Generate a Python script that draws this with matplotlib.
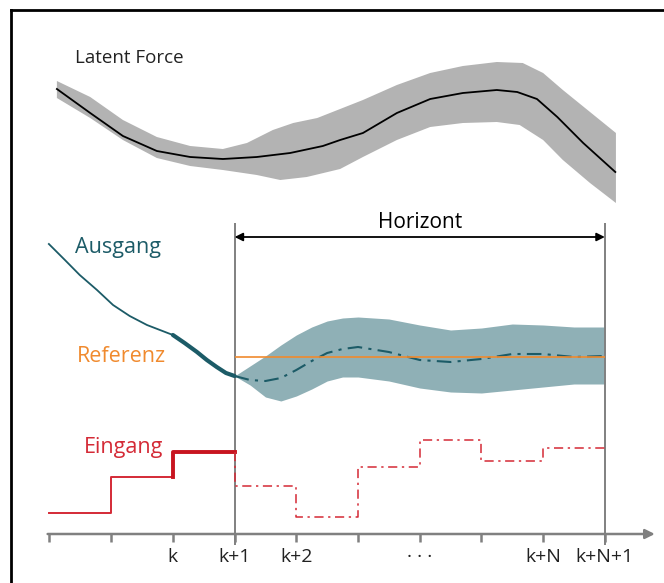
import matplotlib
matplotlib.use("Agg")
import matplotlib.pyplot as plt
from matplotlib.lines import Line2D
import numpy as np

plt.rcParams['font.family'] = ['Open Sans', 'DejaVu Sans']

# ----------------------------------------------------
# DATA (time in sample steps, values in arbitrary units)
# ----------------------------------------------------
# latent force mean
lf_t = [0.12, 0.66, 1.19, 1.74, 2.28, 2.81, 3.36, 3.90, 4.43, 4.71, 5.08, 5.63,
        6.17, 6.70, 7.25, 7.58, 7.90, 8.23, 8.65, 9.17]
lf_mean = [49.4, 47.0, 44.7, 43.2, 42.6, 42.4, 42.6, 43.0, 43.7, 44.3, 45.0, 47.0,
           48.4, 49.0, 49.3, 49.1, 48.4, 46.6, 44.0, 41.1]
# latent force confidence band
lf_up_t = [0.12, 0.66, 1.19, 1.74, 2.28, 2.81, 3.20, 3.62, 3.95, 4.34, 4.71, 5.08,
           5.63, 6.17, 6.70, 7.25, 7.67, 8.00, 8.32, 8.76, 9.18]
lf_upper = [50.2, 48.6, 46.3, 44.6, 43.7, 43.4, 44.0, 45.3, 46.0, 46.5, 47.4, 48.3,
            49.8, 51.0, 51.7, 52.1, 52.0, 51.0, 49.3, 47.1, 45.0]
lf_lo_t = [0.12, 0.66, 1.19, 1.74, 2.28, 2.81, 3.36, 3.74, 4.17, 4.71, 5.08, 5.63,
           6.17, 6.70, 7.25, 7.62, 8.00, 8.32, 8.76, 9.18]
lf_lower = [48.5, 46.5, 44.3, 42.5, 41.7, 41.3, 40.8, 40.3, 40.6, 41.4, 42.6, 44.3,
            45.6, 46.0, 46.1, 45.8, 44.3, 42.3, 40.0, 38.0]

# measured output (past)
out_t = [-0.01, 0.25, 0.49, 0.77, 1.03, 1.30, 1.58, 1.79, 2.0, 2.19, 2.39, 2.55,
         2.71, 2.86, 3.0]
out_y = [33.9, 32.3, 30.8, 29.3, 27.8, 26.7, 25.8, 25.3, 24.8, 24.0, 23.1, 22.3,
         21.6, 21.0, 20.7]

# predicted output (horizon)
pred_t = [3.0, 3.25, 3.5, 3.75, 4.0, 4.25, 4.5, 4.75, 5.0, 5.5, 6.0, 6.5, 7.0,
          7.5, 8.0, 8.5, 9.0]
pred_mean = [20.7, 20.3, 20.2, 20.5, 21.3, 22.2, 23.0, 23.4, 23.6, 23.1, 22.3,
             22.1, 22.4, 22.9, 22.9, 22.6, 22.7]
pred_upper = [20.7, 21.7, 22.7, 23.8, 24.8, 25.6, 26.2, 26.5, 26.6, 26.4, 25.8,
              25.3, 25.5, 25.9, 25.8, 25.6, 25.6]
pred_lower = [20.7, 19.8, 18.6, 18.2, 18.7, 19.4, 20.2, 20.6, 20.6, 20.2, 19.5,
              19.1, 19.0, 19.3, 19.6, 19.9, 19.9]

reference = 22.6

# input (past steps and planned steps)
u_past = [7.0, 10.6, 13.1]
u_future = [9.7, 6.6, 11.6, 14.3, 12.2, 13.5]

tick_labels = ["", "", "k", "k+1", "k+2", "", "\u00b7 \u00b7 \u00b7", "", "k+N", "k+N+1"]

# colours
c_band = "#b3b3b3"
c_teal = "#1c5b67"
c_teal_band = "#8fb0b6"
c_orange = "#f08a2e"
c_red = "#d42a36"
c_axis = "#808080"

# ----------------------------------------------------
# FIGURE
# ----------------------------------------------------
fig = plt.figure(figsize=(6.64, 5.83), dpi=100)
ax = fig.add_axes([0, 0, 1, 1])
ax.set_xlim(-0.802, 9.959)
ax.set_ylim(0, 58.3)
ax.axis("off")

# latent force
ax.fill(np.r_[lf_up_t, lf_lo_t[::-1]], np.r_[lf_upper, lf_lower[::-1]],
        color=c_band, lw=0)
ax.plot(lf_t, lf_mean, color="black", lw=1.3)
ax.text(0.42, 52.5, "Latent Force", fontsize=13.5, color="#222222",
        ha="left", va="center")

# horizon markers
k0 = 3
kN = len(tick_labels) - 1
ax.vlines([k0, kN], 3.8, 36.0, color=c_axis, lw=1.4)
ax.annotate("", xy=(kN, 34.6), xytext=(k0, 34.6),
            arrowprops=dict(arrowstyle="<|-|>", color="black", lw=1.3,
                            mutation_scale=12, shrinkA=0, shrinkB=0))
ax.text((k0 + kN) / 2, 36.0, "Horizont", fontsize=15, ha="center", va="center")

# output
ax.fill_between(pred_t, pred_lower, pred_upper, color=c_teal_band, lw=0)
ax.plot(out_t[:9], out_y[:9], color=c_teal, lw=1.3)
ax.plot(out_t[8:], out_y[8:], color=c_teal, lw=3, solid_capstyle="round")
ax.plot(pred_t, pred_mean, color=c_teal, lw=1.5, ls=(0, (7, 3, 1.5, 3)))
ax.hlines(reference, k0, kN, color=c_orange, lw=1.2)
ax.text(0.42, 33.5, "Ausgang", fontsize=15.5, color=c_teal, ha="left", va="center")
ax.text(0.45, 22.6, "Referenz", fontsize=15.5, color=c_orange, ha="left", va="center")

# input
ax.step([0, 1, 2], [u_past[0], u_past[1], u_past[1]], where="post", color=c_red, lw=1.4)
ax.step([2, 2, 3], [u_past[1], u_past[2], u_past[2]], where="post", color="#c8141f", lw=2.8)
fut_x = [k0] + list(range(k0, kN + 1))
fut_y = [u_past[-1]] + u_future + [u_future[-1]]
ax.step(fut_x, fut_y, where="post", color=c_red, lw=1.1, ls=(0, (6, 3, 1.5, 3)))
ax.text(0.55, 13.6, "Eingang", fontsize=15.5, color=c_red, ha="left", va="center")

# time axis
ax.annotate("", xy=(9.81, 4.9), xytext=(-0.03, 4.9),
            arrowprops=dict(arrowstyle="-|>", color=c_axis, lw=1.8,
                            mutation_scale=14, shrinkA=0, shrinkB=0))
ticks = np.arange(len(tick_labels))
ax.vlines(ticks, 4.1, 4.9, color=c_axis, lw=1.8)
for t, lab in zip(ticks, tick_labels):
    ax.text(t, 2.6, lab, fontsize=14, ha="center", va="center", color="#222222")

# frame (left and top only)
fig.add_artist(Line2D([0.0165, 0.0165], [0, 0.983], transform=fig.transFigure,
                      color="black", lw=2))
fig.add_artist(Line2D([0.0165, 1.0], [0.983, 0.983], transform=fig.transFigure,
                      color="black", lw=2))

fig.savefig("out.png", dpi=100)
